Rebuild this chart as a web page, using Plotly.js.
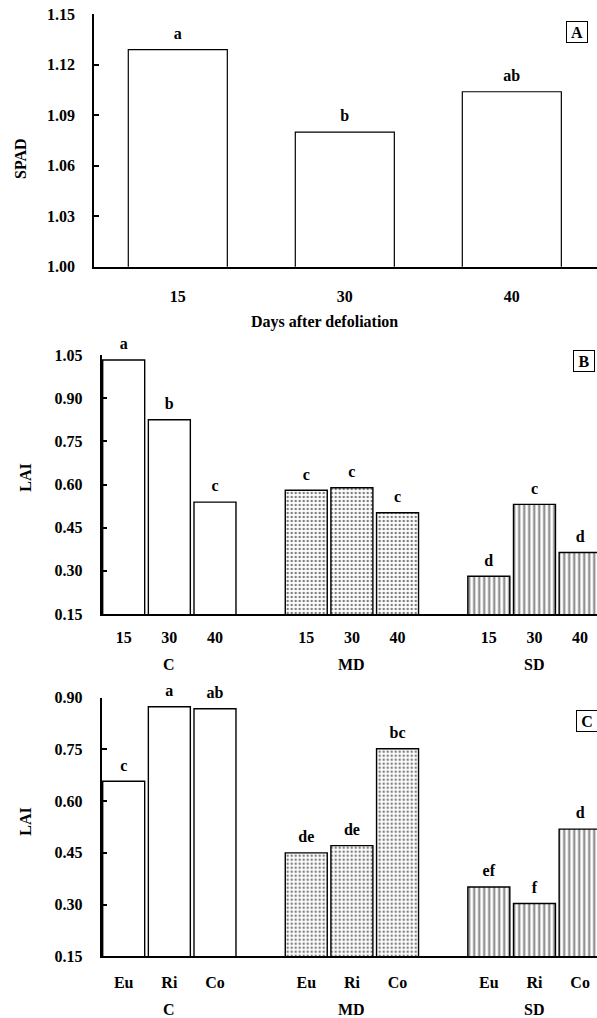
<!DOCTYPE html>
<html>
<head>
<meta charset="utf-8">
<script src="https://cdn.plot.ly/plotly-3.0.1.min.js"></script>
<style>html,body{margin:0;padding:0;background:#fff;}#chart{width:597px;height:1018px;}</style>
</head>
<body>
<div id="chart"></div>
<script>
// ---------- Panel A data ----------
const daysA = ['15', '30', '40'];
const spadA = [1.129, 1.080, 1.104];
const lettersA = ['a', 'b', 'ab'];

// ---------- Panel B data (LAI by defoliation level x days) ----------
const groupsB = ['C', 'MD', 'SD'];
const daysB = ['15', '30', '40'];
const laiB_C = [1.033, 0.825, 0.539];
const laiB_MD = [0.580, 0.589, 0.502];
const laiB_SD = [0.281, 0.531, 0.364];
const lettersB_C = ['a', 'b', 'c'];
const lettersB_MD = ['c', 'c', 'c'];
const lettersB_SD = ['d', 'c', 'd'];

// ---------- Panel C data (LAI by defoliation level x species) ----------
const groupsC = ['C', 'MD', 'SD'];
const speciesC = ['Eu', 'Ri', 'Co'];
const laiC_C = [0.658, 0.874, 0.868];
const laiC_MD = [0.450, 0.471, 0.752];
const laiC_SD = [0.351, 0.303, 0.519];
const lettersC_C = ['c', 'a', 'ab'];
const lettersC_MD = ['de', 'de', 'bc'];
const lettersC_SD = ['ef', 'f', 'd'];

// ---------- styling ----------
const W = 597, H = 1018;
const FAM = '"Liberation Serif", "Times New Roman", Times, serif';
const f16 = {family: FAM, size: 16, color: '#000', weight: 'bold'};
const px = v => v / W;
const py = v => 1 - v / H;

const patterns = [
  null,
  {shape: '.', fgcolor: '#000', bgcolor: '#fff', size: 4, solidity: 0.3, fillmode: 'overlay'},
  {shape: '|', fgcolor: '#000', bgcolor: '#fff', size: 5, solidity: 0.4, fillmode: 'overlay'}
];

const letterMarker = {size: 9, color: 'rgba(0,0,0,0)', line: {width: 0}};
const traces = [];

// Panel A
traces.push({
  type: 'bar', x: daysA, y: spadA, xaxis: 'x', yaxis: 'y', width: 0.593,
  marker: {color: '#fff', line: {color: '#000', width: 1.2}}, hoverinfo: 'skip'
});
traces.push({
  type: 'scatter', mode: 'markers+text', x: daysA, y: spadA, text: lettersA, xaxis: 'x', yaxis: 'y',
  marker: letterMarker, textposition: 'top center', textfont: f16, cliponaxis: false, hoverinfo: 'skip'
});

function addGrouped(xa, ya, series, letters) {
  series.forEach((vals, g) => {
    const pos = vals.map((_, i) => g * 4 + i);
    const m = {color: '#fff', line: {color: '#000', width: 1.4}};
    if (patterns[g]) m.pattern = patterns[g];
    traces.push({type: 'bar', x: pos, y: vals, xaxis: xa, yaxis: ya, width: 0.92,
      marker: m, hoverinfo: 'skip'});
    traces.push({type: 'scatter', mode: 'markers+text', x: pos, y: vals, text: letters[g],
      xaxis: xa, yaxis: ya, marker: letterMarker, textposition: 'top center', textfont: f16,
      cliponaxis: false, hoverinfo: 'skip'});
  });
}
addGrouped('x2', 'y2', [laiB_C, laiB_MD, laiB_SD], [lettersB_C, lettersB_MD, lettersB_SD]);
addGrouped('x3', 'y3', [laiC_C, laiC_MD, laiC_SD], [lettersC_C, lettersC_MD, lettersC_SD]);

const posAll = [];
const txtB = [], txtC = [];
groupsB.forEach((_, g) => daysB.forEach((d, i) => { posAll.push(g * 4 + i); txtB.push(d); txtC.push(speciesC[i]); }));

const yAxisBase = {
  showline: true, linecolor: '#000', linewidth: 2, ticks: 'inside', ticklen: 5, tickwidth: 2,
  tickcolor: '#000', showgrid: false, zeroline: false, tickfont: f16, tickformat: '.2f',
  ticklabelstandoff: 14, fixedrange: true
};
const xAxisBase = {
  showline: true, linecolor: '#000', linewidth: 2, ticks: '', showgrid: false, zeroline: false,
  tickfont: f16, fixedrange: true
};

const annotations = [];
const ann = (o) => Object.assign({xref: 'paper', yref: 'paper', showarrow: false, font: f16, xanchor: 'center', yanchor: 'middle'}, o);
// axis titles
annotations.push(ann({text: 'SPAD', x: px(21), y: py(159), textangle: -90}));
annotations.push(ann({text: 'LAI', x: px(24.7), y: py(478), textangle: -90}));
annotations.push(ann({text: 'LAI', x: px(24.7), y: py(822), textangle: -90}));
annotations.push(ann({text: 'Days after defoliation', x: px(324.5), y: py(322)}));
// group labels
groupsB.forEach((g, k) => annotations.push(ann({text: g, x: k * 4 + 1, xref: 'x2', y: py(664)})));
groupsC.forEach((g, k) => annotations.push(ann({text: g, x: k * 4 + 1, xref: 'x3', y: py(1009.5)})));
// panel boxes
[['A', 577, 31.5], ['B', 584, 361.5], ['C', 587, 720.5]].forEach(([t, cx, cy]) => annotations.push(ann({
  text: t, x: px(cx), y: py(cy),
  bordercolor: '#000', borderwidth: 1, borderpad: 0, width: 20, height: 20, bgcolor: '#fff'
})));

const layout = {
  width: W, height: H, margin: {l: 0, r: 0, t: 0, b: 0}, paper_bgcolor: '#fff', plot_bgcolor: 'rgba(0,0,0,0)',
  showlegend: false, font: f16,
  xaxis: Object.assign({}, xAxisBase, {domain: [px(94.3), 1], range: [-0.5, 2.51], type: 'category', anchor: 'y', ticklabelstandoff: 14}),
  yaxis: Object.assign({}, yAxisBase, {domain: [py(266.7), py(14)], range: [1.0, 1.1502], dtick: 0.03, tick0: 1.0, anchor: 'x'}),
  xaxis2: Object.assign({}, xAxisBase, {domain: [px(101.7), 1], range: [-0.482, 10.37], tickvals: posAll, ticktext: txtB, anchor: 'y2', ticklabelstandoff: 8}),
  yaxis2: Object.assign({}, yAxisBase, {domain: [py(614), py(355)], range: [0.15, 1.0502], dtick: 0.15, tick0: 0.15, anchor: 'x2'}),
  xaxis3: Object.assign({}, xAxisBase, {domain: [px(101.7), 1], range: [-0.482, 10.37], tickvals: posAll, ticktext: txtC, anchor: 'y3', ticklabelstandoff: 10}),
  yaxis3: Object.assign({}, yAxisBase, {domain: [py(956.3), py(697.7)], range: [0.15, 0.9002], dtick: 0.15, tick0: 0.15, anchor: 'x3'}),
  annotations: annotations,
  bargap: 0
};

Plotly.newPlot('chart', traces, layout, {displayModeBar: false, staticPlot: true});
</script>
</body>
</html>
